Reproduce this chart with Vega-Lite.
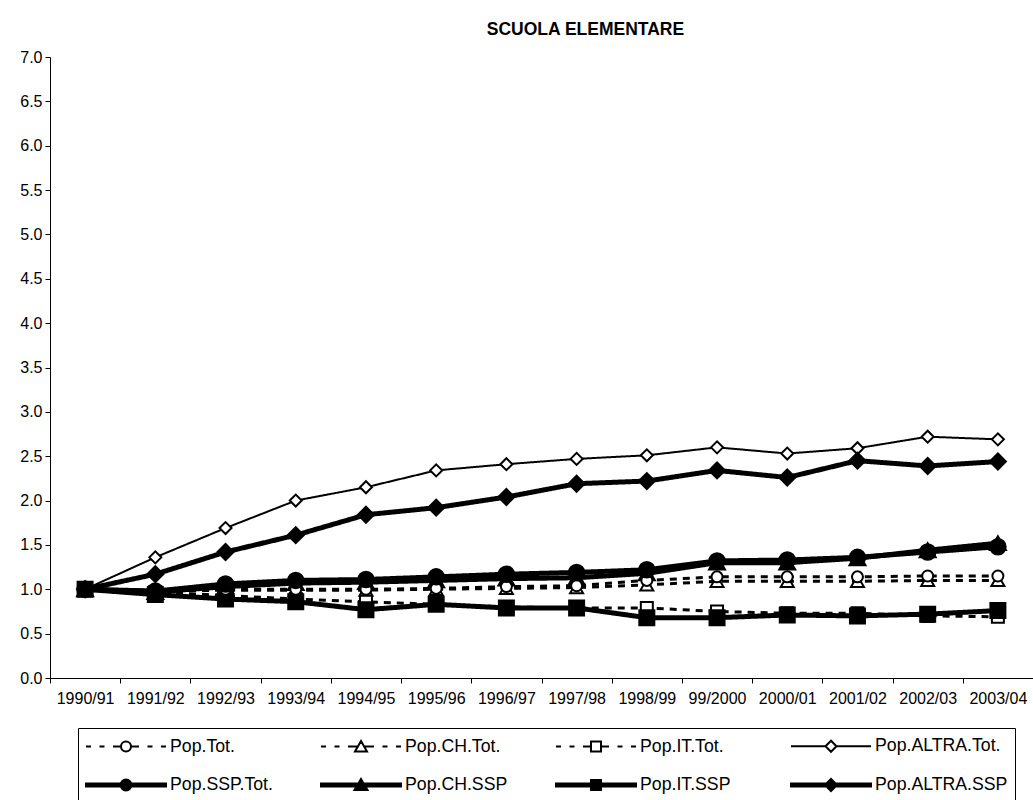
{
  "$schema": "https://vega.github.io/schema/vega-lite/v6.json",
  "autosize": {"type": "none"},
  "padding": {"left": 50, "top": 57, "right": 0, "bottom": 122},
  "width": 983,
  "height": 621,
  "background": "white",
  "title": {"text": "SCUOLA ELEMENTARE", "fontSize": 17.5, "font": "Liberation Sans", "fontWeight": "bold", "anchor": "middle", "frame": "group", "dx": 44, "offset": 11, "color": "black"},
  "config": {
    "view": {"stroke": null},
    "axis": {"labelFont": "Liberation Sans", "labelColor": "black", "domainColor": "black", "tickColor": "black", "grid": false, "title": null, "labelFontSize": 16, "tickSize": 5},
    "legend": {"orient": "none", "legendX": 28, "legendY": 671, "direction": "horizontal", "columns": 4,
      "symbolSize": 400, "symbolStrokeWidth": 2, "symbolStrokeColor": "black",
      "labelFontSize": 17.7, "labelFont": "Liberation Sans", "labelColor": "black", "labelOffset": 63, "labelLimit": 400,
      "rowPadding": 18, "columnPadding": 14, "gridAlign": "all",
      "strokeColor": "black", "fillColor": "white", "padding": 7}
  },
  "data": {"values": [
    {"year": "1990/91", "series": "Pop.Tot.", "value": 1.00},
    {"year": "1991/92", "series": "Pop.Tot.", "value": 0.99},
    {"year": "1992/93", "series": "Pop.Tot.", "value": 1.00},
    {"year": "1993/94", "series": "Pop.Tot.", "value": 1.00},
    {"year": "1994/95", "series": "Pop.Tot.", "value": 1.00},
    {"year": "1995/96", "series": "Pop.Tot.", "value": 1.01},
    {"year": "1996/97", "series": "Pop.Tot.", "value": 1.03},
    {"year": "1997/98", "series": "Pop.Tot.", "value": 1.04},
    {"year": "1998/99", "series": "Pop.Tot.", "value": 1.10},
    {"year": "99/2000", "series": "Pop.Tot.", "value": 1.14},
    {"year": "2000/01", "series": "Pop.Tot.", "value": 1.14},
    {"year": "2001/02", "series": "Pop.Tot.", "value": 1.14},
    {"year": "2002/03", "series": "Pop.Tot.", "value": 1.15},
    {"year": "2003/04", "series": "Pop.Tot.", "value": 1.15},
    {"year": "1990/91", "series": "Pop.CH.Tot.", "value": 1.00},
    {"year": "1991/92", "series": "Pop.CH.Tot.", "value": 0.98},
    {"year": "1992/93", "series": "Pop.CH.Tot.", "value": 0.99},
    {"year": "1993/94", "series": "Pop.CH.Tot.", "value": 0.99},
    {"year": "1994/95", "series": "Pop.CH.Tot.", "value": 0.99},
    {"year": "1995/96", "series": "Pop.CH.Tot.", "value": 1.00},
    {"year": "1996/97", "series": "Pop.CH.Tot.", "value": 1.01},
    {"year": "1997/98", "series": "Pop.CH.Tot.", "value": 1.02},
    {"year": "1998/99", "series": "Pop.CH.Tot.", "value": 1.05},
    {"year": "99/2000", "series": "Pop.CH.Tot.", "value": 1.09},
    {"year": "2000/01", "series": "Pop.CH.Tot.", "value": 1.09},
    {"year": "2001/02", "series": "Pop.CH.Tot.", "value": 1.09},
    {"year": "2002/03", "series": "Pop.CH.Tot.", "value": 1.10},
    {"year": "2003/04", "series": "Pop.CH.Tot.", "value": 1.10},
    {"year": "1990/91", "series": "Pop.IT.Tot.", "value": 1.00},
    {"year": "1991/92", "series": "Pop.IT.Tot.", "value": 0.97},
    {"year": "1992/93", "series": "Pop.IT.Tot.", "value": 0.93},
    {"year": "1993/94", "series": "Pop.IT.Tot.", "value": 0.89},
    {"year": "1994/95", "series": "Pop.IT.Tot.", "value": 0.86},
    {"year": "1995/96", "series": "Pop.IT.Tot.", "value": 0.83},
    {"year": "1996/97", "series": "Pop.IT.Tot.", "value": 0.80},
    {"year": "1997/98", "series": "Pop.IT.Tot.", "value": 0.79},
    {"year": "1998/99", "series": "Pop.IT.Tot.", "value": 0.79},
    {"year": "99/2000", "series": "Pop.IT.Tot.", "value": 0.75},
    {"year": "2000/01", "series": "Pop.IT.Tot.", "value": 0.73},
    {"year": "2001/02", "series": "Pop.IT.Tot.", "value": 0.73},
    {"year": "2002/03", "series": "Pop.IT.Tot.", "value": 0.70},
    {"year": "2003/04", "series": "Pop.IT.Tot.", "value": 0.69},
    {"year": "1990/91", "series": "Pop.ALTRA.Tot.", "value": 1.00},
    {"year": "1991/92", "series": "Pop.ALTRA.Tot.", "value": 1.36},
    {"year": "1992/93", "series": "Pop.ALTRA.Tot.", "value": 1.69},
    {"year": "1993/94", "series": "Pop.ALTRA.Tot.", "value": 2.00},
    {"year": "1994/95", "series": "Pop.ALTRA.Tot.", "value": 2.15},
    {"year": "1995/96", "series": "Pop.ALTRA.Tot.", "value": 2.34},
    {"year": "1996/97", "series": "Pop.ALTRA.Tot.", "value": 2.41},
    {"year": "1997/98", "series": "Pop.ALTRA.Tot.", "value": 2.47},
    {"year": "1998/99", "series": "Pop.ALTRA.Tot.", "value": 2.51},
    {"year": "99/2000", "series": "Pop.ALTRA.Tot.", "value": 2.60},
    {"year": "2000/01", "series": "Pop.ALTRA.Tot.", "value": 2.53},
    {"year": "2001/02", "series": "Pop.ALTRA.Tot.", "value": 2.59},
    {"year": "2002/03", "series": "Pop.ALTRA.Tot.", "value": 2.72},
    {"year": "2003/04", "series": "Pop.ALTRA.Tot.", "value": 2.69},
    {"year": "1990/91", "series": "Pop.SSP.Tot.", "value": 1.00},
    {"year": "1991/92", "series": "Pop.SSP.Tot.", "value": 0.98},
    {"year": "1992/93", "series": "Pop.SSP.Tot.", "value": 1.06},
    {"year": "1993/94", "series": "Pop.SSP.Tot.", "value": 1.10},
    {"year": "1994/95", "series": "Pop.SSP.Tot.", "value": 1.11},
    {"year": "1995/96", "series": "Pop.SSP.Tot.", "value": 1.14},
    {"year": "1996/97", "series": "Pop.SSP.Tot.", "value": 1.17},
    {"year": "1997/98", "series": "Pop.SSP.Tot.", "value": 1.19},
    {"year": "1998/99", "series": "Pop.SSP.Tot.", "value": 1.22},
    {"year": "99/2000", "series": "Pop.SSP.Tot.", "value": 1.32},
    {"year": "2000/01", "series": "Pop.SSP.Tot.", "value": 1.33},
    {"year": "2001/02", "series": "Pop.SSP.Tot.", "value": 1.36},
    {"year": "2002/03", "series": "Pop.SSP.Tot.", "value": 1.42},
    {"year": "2003/04", "series": "Pop.SSP.Tot.", "value": 1.48},
    {"year": "1990/91", "series": "Pop.CH.SSP", "value": 1.00},
    {"year": "1991/92", "series": "Pop.CH.SSP", "value": 0.97},
    {"year": "1992/93", "series": "Pop.CH.SSP", "value": 1.03},
    {"year": "1993/94", "series": "Pop.CH.SSP", "value": 1.07},
    {"year": "1994/95", "series": "Pop.CH.SSP", "value": 1.08},
    {"year": "1995/96", "series": "Pop.CH.SSP", "value": 1.10},
    {"year": "1996/97", "series": "Pop.CH.SSP", "value": 1.12},
    {"year": "1997/98", "series": "Pop.CH.SSP", "value": 1.13},
    {"year": "1998/99", "series": "Pop.CH.SSP", "value": 1.18},
    {"year": "99/2000", "series": "Pop.CH.SSP", "value": 1.30},
    {"year": "2000/01", "series": "Pop.CH.SSP", "value": 1.30},
    {"year": "2001/02", "series": "Pop.CH.SSP", "value": 1.35},
    {"year": "2002/03", "series": "Pop.CH.SSP", "value": 1.44},
    {"year": "2003/04", "series": "Pop.CH.SSP", "value": 1.52},
    {"year": "1990/91", "series": "Pop.IT.SSP", "value": 1.00},
    {"year": "1991/92", "series": "Pop.IT.SSP", "value": 0.94},
    {"year": "1992/93", "series": "Pop.IT.SSP", "value": 0.89},
    {"year": "1993/94", "series": "Pop.IT.SSP", "value": 0.86},
    {"year": "1994/95", "series": "Pop.IT.SSP", "value": 0.77},
    {"year": "1995/96", "series": "Pop.IT.SSP", "value": 0.83},
    {"year": "1996/97", "series": "Pop.IT.SSP", "value": 0.79},
    {"year": "1997/98", "series": "Pop.IT.SSP", "value": 0.79},
    {"year": "1998/99", "series": "Pop.IT.SSP", "value": 0.68},
    {"year": "99/2000", "series": "Pop.IT.SSP", "value": 0.68},
    {"year": "2000/01", "series": "Pop.IT.SSP", "value": 0.71},
    {"year": "2001/02", "series": "Pop.IT.SSP", "value": 0.70},
    {"year": "2002/03", "series": "Pop.IT.SSP", "value": 0.72},
    {"year": "2003/04", "series": "Pop.IT.SSP", "value": 0.76},
    {"year": "1990/91", "series": "Pop.ALTRA.SSP", "value": 1.00},
    {"year": "1991/92", "series": "Pop.ALTRA.SSP", "value": 1.17},
    {"year": "1992/93", "series": "Pop.ALTRA.SSP", "value": 1.42},
    {"year": "1993/94", "series": "Pop.ALTRA.SSP", "value": 1.61},
    {"year": "1994/95", "series": "Pop.ALTRA.SSP", "value": 1.84},
    {"year": "1995/96", "series": "Pop.ALTRA.SSP", "value": 1.92},
    {"year": "1996/97", "series": "Pop.ALTRA.SSP", "value": 2.04},
    {"year": "1997/98", "series": "Pop.ALTRA.SSP", "value": 2.19},
    {"year": "1998/99", "series": "Pop.ALTRA.SSP", "value": 2.22},
    {"year": "99/2000", "series": "Pop.ALTRA.SSP", "value": 2.34},
    {"year": "2000/01", "series": "Pop.ALTRA.SSP", "value": 2.26},
    {"year": "2001/02", "series": "Pop.ALTRA.SSP", "value": 2.45},
    {"year": "2002/03", "series": "Pop.ALTRA.SSP", "value": 2.39},
    {"year": "2003/04", "series": "Pop.ALTRA.SSP", "value": 2.44}
  ]},
  "encoding": {
    "x": {"field": "year", "type": "ordinal",
      "scale": {"type": "band", "paddingInner": 0, "paddingOuter": 0, "domain": ["1990/91","1991/92","1992/93","1993/94","1994/95","1995/96","1996/97","1997/98","1998/99","99/2000","2000/01","2001/02","2002/03","2003/04"]},
      "axis": {"tickBand": "extent", "labelAngle": 0, "labelPadding": 7, "labelFontSize": 16}},
    "y": {"field": "value", "type": "quantitative",
      "scale": {"domain": [0, 7], "nice": false, "zero": true},
      "axis": {"values": [0,0.5,1,1.5,2,2.5,3,3.5,4,4.5,5,5.5,6,6.5,7], "format": ".1f", "labelPadding": 3}}
  },
  "layer": [
    {
      "data": {"values": [{}]},
      "mark": {"type": "rule", "color": "#808080", "strokeWidth": 2.5},
      "encoding": {"x": null, "y": {"datum": 7}}
    },
    {
      "mark": {"type": "line", "color": "black"},
      "encoding": {
        "strokeDash": {"field": "series", "type": "nominal", "legend": null,
          "scale": {"domain": ["Pop.ALTRA.SSP","Pop.IT.SSP","Pop.CH.SSP","Pop.SSP.Tot.","Pop.ALTRA.Tot.","Pop.IT.Tot.","Pop.CH.Tot.","Pop.Tot."],
                    "range": [[1,0],[1,0],[1,0],[1,0],[1,0],[7,6],[7,6],[7,6]]}},
        "strokeWidth": {"field": "series", "type": "nominal", "legend": null,
          "scale": {"type": "ordinal", "domain": ["Pop.IT.SSP","Pop.ALTRA.SSP","Pop.CH.SSP","Pop.SSP.Tot.","Pop.ALTRA.Tot.","Pop.IT.Tot.","Pop.CH.Tot.","Pop.Tot."],
                    "range": [5,5,5,5,2,3,3,3]}}
      }
    },
    {
      "transform": [{"filter": {"field": "series", "oneOf": ["Pop.CH.Tot.", "Pop.CH.SSP"]}}],
      "mark": {"type": "point", "shape": "triangle-up", "filled": true, "stroke": "black", "strokeWidth": 2, "opacity": 1},
      "encoding": {
        "size": {"field": "series", "type": "nominal", "legend": null,
          "scale": {"type": "ordinal", "domain": ["Pop.SSP.Tot.","Pop.ALTRA.SSP","Pop.IT.SSP","Pop.CH.SSP","Pop.ALTRA.Tot.","Pop.IT.Tot.","Pop.CH.Tot.","Pop.Tot."],
                    "range": [240,256,225,256,144,144,169,121]}},
        "fill": {"field": "series", "type": "nominal", "legend": {"title": null},
          "scale": {"domain": ["Pop.Tot.","Pop.CH.Tot.","Pop.IT.Tot.","Pop.ALTRA.Tot.","Pop.SSP.Tot.","Pop.CH.SSP","Pop.IT.SSP","Pop.ALTRA.SSP"],
                    "range": ["white","white","white","white","black","black","black","black"]}}
      }
    },
    {
      "transform": [{"filter": {"field": "series", "oneOf": ["Pop.IT.Tot.", "Pop.IT.SSP"]}}],
      "mark": {"type": "point", "shape": "square", "filled": true, "stroke": "black", "strokeWidth": 2, "opacity": 1},
      "encoding": {
        "size": {"field": "series", "type": "nominal", "legend": null,
          "scale": {"type": "ordinal", "domain": ["Pop.SSP.Tot.","Pop.ALTRA.SSP","Pop.IT.SSP","Pop.CH.SSP","Pop.ALTRA.Tot.","Pop.IT.Tot.","Pop.CH.Tot.","Pop.Tot."],
                    "range": [240,256,225,256,144,144,169,121]}},
        "fill": {"field": "series", "type": "nominal", "legend": {"title": null},
          "scale": {"domain": ["Pop.Tot.","Pop.CH.Tot.","Pop.IT.Tot.","Pop.ALTRA.Tot.","Pop.SSP.Tot.","Pop.CH.SSP","Pop.IT.SSP","Pop.ALTRA.SSP"],
                    "range": ["white","white","white","white","black","black","black","black"]}}
      }
    },
    {
      "transform": [{"filter": {"field": "series", "oneOf": ["Pop.Tot.", "Pop.SSP.Tot."]}}],
      "mark": {"type": "point", "shape": "circle", "filled": true, "stroke": "black", "strokeWidth": 2, "opacity": 1},
      "encoding": {
        "size": {"field": "series", "type": "nominal", "legend": null,
          "scale": {"type": "ordinal", "domain": ["Pop.SSP.Tot.","Pop.ALTRA.SSP","Pop.IT.SSP","Pop.CH.SSP","Pop.ALTRA.Tot.","Pop.IT.Tot.","Pop.CH.Tot.","Pop.Tot."],
                    "range": [240,256,225,256,144,144,169,121]}},
        "fill": {"field": "series", "type": "nominal", "legend": {"title": null},
          "scale": {"domain": ["Pop.Tot.","Pop.CH.Tot.","Pop.IT.Tot.","Pop.ALTRA.Tot.","Pop.SSP.Tot.","Pop.CH.SSP","Pop.IT.SSP","Pop.ALTRA.SSP"],
                    "range": ["white","white","white","white","black","black","black","black"]}}
      }
    },
    {
      "transform": [{"filter": {"field": "series", "oneOf": ["Pop.ALTRA.Tot.", "Pop.ALTRA.SSP"]}}],
      "mark": {"type": "point", "shape": "diamond", "filled": true, "stroke": "black", "strokeWidth": 2, "opacity": 1},
      "encoding": {
        "size": {"field": "series", "type": "nominal", "legend": null,
          "scale": {"type": "ordinal", "domain": ["Pop.SSP.Tot.","Pop.ALTRA.SSP","Pop.IT.SSP","Pop.CH.SSP","Pop.ALTRA.Tot.","Pop.IT.Tot.","Pop.CH.Tot.","Pop.Tot."],
                    "range": [240,256,225,256,144,144,169,121]}},
        "fill": {"field": "series", "type": "nominal", "legend": {"title": null},
          "scale": {"domain": ["Pop.Tot.","Pop.CH.Tot.","Pop.IT.Tot.","Pop.ALTRA.Tot.","Pop.SSP.Tot.","Pop.CH.SSP","Pop.IT.SSP","Pop.ALTRA.SSP"],
                    "range": ["white","white","white","white","black","black","black","black"]}}
      }
    },
    {
      "mark": {"type": "point", "filled": true, "size": 0, "stroke": "black", "strokeWidth": 2, "opacity": 1},
      "encoding": {
        "fill": {"field": "series", "type": "nominal", "legend": {"title": null},
          "scale": {"domain": ["Pop.Tot.","Pop.CH.Tot.","Pop.IT.Tot.","Pop.ALTRA.Tot.","Pop.SSP.Tot.","Pop.CH.SSP","Pop.IT.SSP","Pop.ALTRA.SSP"],
                    "range": ["white","white","white","white","black","black","black","black"]}},
        "shape": {"field": "series", "type": "nominal",
          "legend": {"title": null, "orient": "none", "legendX": 28, "legendY": 671, "direction": "horizontal", "columns": 4},
          "scale": {"domain": ["Pop.Tot.","Pop.CH.Tot.","Pop.IT.Tot.","Pop.ALTRA.Tot.","Pop.SSP.Tot.","Pop.CH.SSP","Pop.IT.SSP","Pop.ALTRA.SSP"],
                    "range": [
                      "M-1,0L-0.5,0M0.35,0L0.85,0M1.7,0L2.5,0M3.5,0L4.3,0M5.15,0L5.65,0M6.5,0L7,0M2.5,0A0.5,0.5 0 1,1 3.5,0A0.5,0.5 0 1,1 2.5,0Z",
                      "M-1,0L-0.5,0M0.35,0L0.85,0M1.7,0L2.69,0M3.31,0L4.3,0M5.15,0L5.65,0M6.5,0L7,0M3,-0.55L3.6,0.5L2.4,0.5Z",
                      "M-1,0L-0.5,0M0.35,0L0.85,0M1.7,0L2.5,0M3.5,0L4.3,0M5.15,0L5.65,0M6.5,0L7,0M2.5,-0.5L3.5,-0.5L3.5,0.5L2.5,0.5Z",
                      "M-1,0L2.45,0M3.55,0L7,0M2.45,0L3,-0.55L3.55,0L3,0.55Z",
                      "M-1,-0.15L7,-0.15L7,0.15L-1,0.15ZM2.45,0A0.55,0.55 0 1,1 3.55,0A0.55,0.55 0 1,1 2.45,0Z",
                      "M-1,-0.15L7,-0.15L7,0.15L-1,0.15ZM3,-0.6L3.65,0.5L2.35,0.5Z",
                      "M-1,-0.15L7,-0.15L7,0.15L-1,0.15ZM2.5,-0.5L3.5,-0.5L3.5,0.5L2.5,0.5Z",
                      "M-1,-0.15L7,-0.15L7,0.15L-1,0.15ZM2.4,0L3,-0.6L3.6,0L3,0.6Z"
                    ]}}
      }
    }
  ]
}
